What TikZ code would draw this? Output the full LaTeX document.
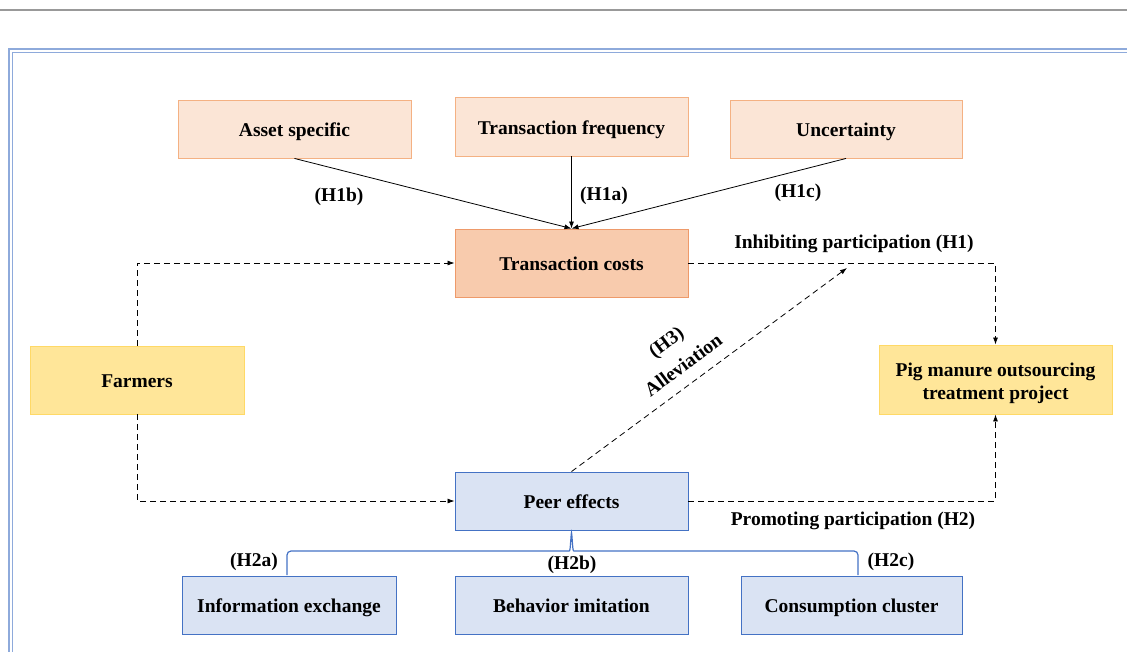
\documentclass[tikz,border=0pt]{standalone}
\usepackage{fontspec}
\setmainfont{Liberation Serif}
\usetikzlibrary{arrows.meta}
\definecolor{factorfill}{HTML}{FBE5D6}
\definecolor{factorline}{HTML}{F4B183}
\definecolor{costfill}{HTML}{F8CBAD}
\definecolor{costline}{HTML}{EE9A6A}
\definecolor{actorfill}{HTML}{FFE699}
\definecolor{actorline}{HTML}{FFD966}
\definecolor{peerfill}{HTML}{DAE3F3}
\definecolor{peerline}{HTML}{4472C4}
\definecolor{framecol}{HTML}{8EAADB}
\begin{document}
\begin{tikzpicture}[
    x=1pt, y=-1pt,
    font=\fontsize{19.5}{23}\selectfont\bfseries,
    box/.style={rectangle, draw, line width=0.9pt, minimum width=233pt, minimum height=58pt, text centered, inner sep=0pt, text height=16pt, text depth=1pt},
    factor/.style={box, fill=factorfill, draw=factorline},
    cost/.style={box, fill=costfill, draw=costline, minimum height=68pt},
    actor/.style={box, fill=actorfill, draw=actorline, minimum height=68pt, align=center},
    peer/.style={box, fill=peerfill, draw=peerline},
    arrow/.style={-{Latex[length=7pt,width=5pt]}, line width=0.8pt},
    dasharrow/.style={arrow, dash pattern=on 6pt off 4pt}
]
    \useasboundingbox (0,0) rectangle (1127,651);
    % page rule and double frame
    \draw[gray!80, line width=1.5pt] (0,10) -- (1127,10);
    \draw[framecol, line width=2pt] (9,660) -- (9,49) -- (1135,49);
    \draw[framecol, line width=1.2pt] (12.5,660) -- (12.5,52.5) -- (1135,52.5);

    \node[factor] (asset) at (294.5,129) {Asset specific};
    \node[factor, minimum height=59pt] (freq) at (571.5,126.5) {Transaction frequency};
    \node[factor, minimum width=232pt] (unc) at (846,129) {Uncertainty};
    \node[cost] (costs) at (571.5,263) {Transaction costs};
    \node[actor, minimum width=214pt] (farmers) at (137,380) {Farmers};
    \node[actor, minimum height=69pt, text height=40pt, text depth=0pt] (pig) at (995.5,379.5) {Pig manure outsourcing\\treatment project};
    \node[peer] (peer) at (571.5,501) {Peer effects};
    \node[peer, minimum width=214pt] (info) at (289,605) {Information exchange};
    \node[peer] (imit) at (571.5,605) {Behavior imitation};
    \node[peer, minimum width=221pt] (cons) at (851.5,605) {Consumption cluster};

    \draw[arrow] (asset.south) -- (costs.north);
    \draw[arrow] (freq.south) -- (costs.north);
    \draw[arrow] (unc.south) -- (costs.north);
    \node (h1b) at (339,197) {(H1b)};
    \node (h1a) at (604,196) {(H1a)};
    \node (h1c) at (798,193) {(H1c)};

    \draw[dasharrow] (farmers.north) |- (costs.west);
    \draw[dasharrow] (farmers.south) |- (peer.west);
    \draw[dasharrow] (costs.east) -| (pig.north);
    \draw[dasharrow] (peer.east) -| (pig.south);
    \node (inhib) at (854,244) {Inhibiting participation (H1)};
    \node (promo) at (853,521) {Promoting participation (H2)};

    \coordinate (mod) at (847,268);
    \draw[dasharrow] (peer.north) -- (mod);
    \node[rotate=36.6, align=center] (allev) at (674.5,353) {(H3)\\[6pt]Alleviation};

    % brace
    \coordinate (bl) at (287,575);
    \coordinate (br) at (858,575);
    \draw[peerline, line width=1.2pt, rounded corners=4pt] (bl) |- (565,551)
        .. controls (570,551) .. (peer.south) .. controls (573,551) .. (578,551) -| (br);
    \node (h2a) at (254,562) {(H2a)};
    \node (h2b) at (572,565) {(H2b)};
    \node (h2c) at (891,562) {(H2c)};
\end{tikzpicture}
\end{document}
